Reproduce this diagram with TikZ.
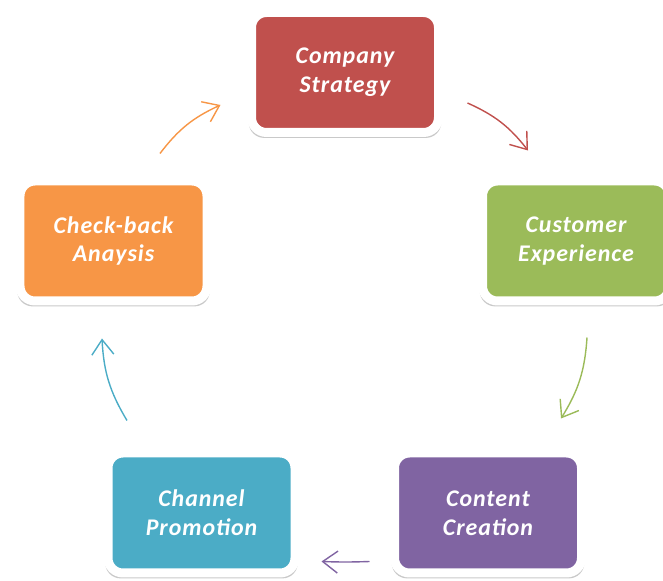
\documentclass[tikz,border=0pt]{standalone}
\usepackage{fontspec}
\setmainfont{Carlito}[LetterSpace=4]
\usepackage{tikz}
\usetikzlibrary{arrows.meta,shadows}
\definecolor{stratred}{HTML}{C0504D}
\definecolor{expgreen}{HTML}{9BBB59}
\definecolor{contpurple}{HTML}{8064A2}
\definecolor{chanblue}{HTML}{4BACC6}
\definecolor{checkorange}{HTML}{F79646}
\tikzset{
    stage/.style={
           rectangle,
           rounded corners=15bp,
           draw=white, line width=9bp,
           minimum width=187bp,
           minimum height=120bp,
           inner sep=2pt,
           text=white,
           align=center,
           font=\fontsize{24}{29}\selectfont\bfseries\itshape,
           drop shadow={shadow xshift=0bp, shadow yshift=-3.5bp, shadow scale=1.03, opacity=0.3, fill=black!70},
           },
    turn/.style={
           line width=1.4bp,
           -{Straight Barb[length=15bp,width=22bp]},
           bend left=14,
           },
}

\begin{document}
\begin{tikzpicture}[x=1bp, y=1bp]
    \useasboundingbox (0,0) rectangle (663,581);

    % top of the cycle
    \node[stage, fill=stratred] (strategy) at (345,508.5) {Company\\Strategy};

    % middle row
    \node[stage, fill=checkorange] (analysis) at (113.5,340) {Check-back\\Anaysis};
    \node[stage, fill=expgreen,
    right of=analysis,
    node distance=462.5bp] (experience) {Customer\\Experience};

    % bottom row
    \node[stage, fill=chanblue] (promotion) at (201.5,68) {Channel\\Promotion};
    \node[stage, fill=contpurple,
    right of=promotion,
    node distance=286.5bp] (creation) {Content\\Creation};

    % the arrows running round clockwise
    \path
        ([shift={(24.5,-30.5)}]strategy.east) edge[turn, stratred]
        ([shift={(-48,26)}]experience.north)

        ([shift={(11,-32)}]experience.south) edge[turn, expgreen]
        ([shift={(73,30)}]creation.north)

        ([shift={(-20.5,16)}]creation.south west) edge[turn, contpurple, bend left=2]
        ([shift={(22,16)}]promotion.south east)

        ([shift={(-74.5,28)}]promotion.north) edge[turn, chanblue]
        ([shift={(-11.5,-33)}]analysis.south)

        ([shift={(46.5,23)}]analysis.north) edge[turn, checkorange]
        ([shift={(-26.5,-32.5)}]strategy.west);
\end{tikzpicture}
\end{document}
